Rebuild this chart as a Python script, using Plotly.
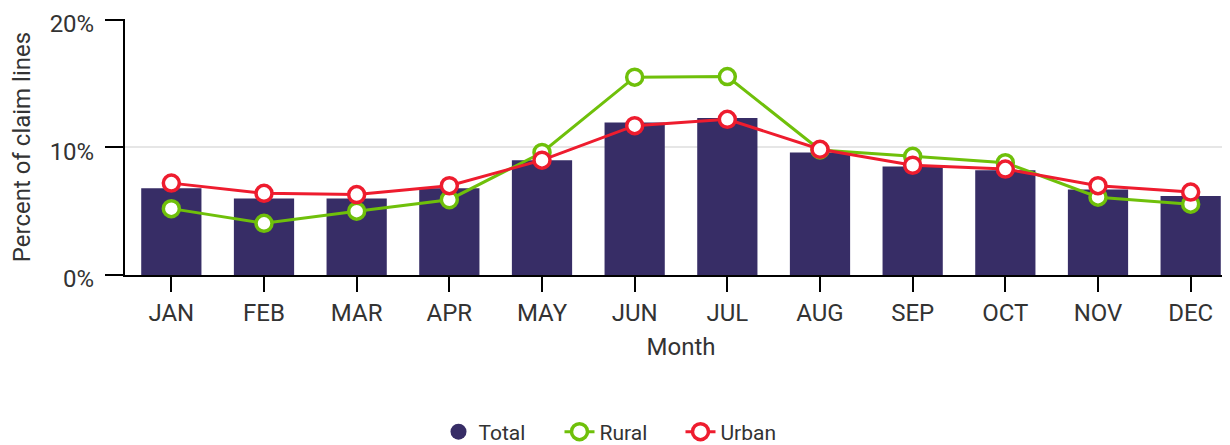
import plotly.graph_objects as go

months = ["JAN", "FEB", "MAR", "APR", "MAY", "JUN", "JUL", "AUG", "SEP", "OCT", "NOV", "DEC"]
total = [6.8, 6.0, 6.0, 6.8, 9.0, 11.95, 12.3, 9.6, 8.5, 8.2, 6.7, 6.2]
rural = [5.2, 4.05, 5.0, 5.9, 9.6, 15.5, 15.55, 9.8, 9.3, 8.8, 6.1, 5.55]
urban = [7.2, 6.4, 6.3, 7.0, 9.0, 11.7, 12.2, 9.85, 8.6, 8.3, 7.0, 6.5]

FONT = "Roboto"
TXT = "#333333"
NAVY = "#372D66"
GREEN = "#6FC00A"
RED = "#EE1C2E"

fig = go.Figure()
fig.add_trace(go.Bar(x=months, y=total, name="Total", marker=dict(color=NAVY, line=dict(width=0)),
                     width=0.65, showlegend=False, legendgroup="total"))
# legend entry for Total shown as a filled circle
fig.add_trace(go.Scatter(x=[None], y=[None], name="Total", mode="markers", legendgroup="total",
                         marker=dict(size=20, color=NAVY, symbol="circle")))
fig.add_trace(go.Scatter(x=months, y=rural, name="Rural", mode="lines+markers",
                         line=dict(color=GREEN, width=3),
                         marker=dict(size=16, color="white", line=dict(color=GREEN, width=3.5))))
fig.add_trace(go.Scatter(x=months, y=urban, name="Urban", mode="lines+markers",
                         line=dict(color=RED, width=3),
                         marker=dict(size=16, color="white", line=dict(color=RED, width=3.5))))

fig.update_layout(
    width=1230, height=445,
    margin=dict(l=117, r=1, t=11, b=178),
    plot_bgcolor="white", paper_bgcolor="white",
    font=dict(family=FONT, color=TXT, size=22),
    showlegend=True,
    legend=dict(orientation="h", x=612/1230, xanchor="center", xref="container",
                y=21/445, yanchor="middle", yref="container",
                font=dict(size=21, color=TXT), entrywidth=76, traceorder="normal"),
    bargap=0.35,
)
fig.update_xaxes(
    range=[-0.5, 11.5], showline=True, linecolor="black", linewidth=2,
    ticks="outside", ticklen=15, tickwidth=2, tickcolor="black",
    tickfont=dict(size=24, color=TXT), automargin=False,
    title=dict(text="Month", font=dict(size=24, color=TXT), standoff=12),
    showgrid=False, zeroline=False,
)
fig.update_yaxes(
    range=[0, 20.06], tickvals=[0, 10, 20], ticktext=["0%", "10%", "20%"],
    showline=True, linecolor="black", linewidth=2,
    ticks="outside", ticklen=18, tickwidth=2, tickcolor="black",
    tickfont=dict(size=24, color=TXT), automargin=False, ticklabelstandoff=6,
    ticklabelshift=4, ticklabeloverflow="allow",
    showgrid=True, gridcolor="#E6E6E6", gridwidth=2,
    zeroline=False,
    title=dict(text="Percent of claim lines", font=dict(size=24, color=TXT), standoff=20),
)

fig.write_html("out.html")
